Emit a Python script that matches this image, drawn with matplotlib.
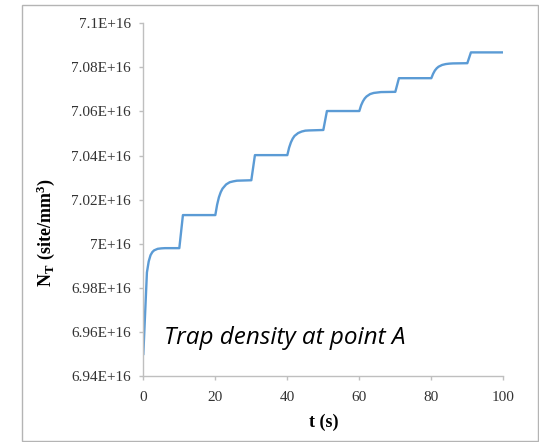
import numpy as np
import matplotlib
matplotlib.use("Agg")
import matplotlib.pyplot as plt
from matplotlib.patches import Rectangle

# time (s) and trap density N_T (in units of 1E+16 site/mm^3)
t = [0, 1, 1.5, 2, 2.5, 3, 4, 5, 6, 10, 11,
     20, 20.5, 21, 21.5, 22, 23, 24, 25, 26, 30, 31,
     40, 40.5, 41, 41.5, 42, 43, 44, 45, 46, 50, 51,
     60, 60.5, 61, 61.5, 62, 63, 64, 65, 66, 70, 71,
     80, 80.5, 81, 81.5, 82, 83, 84, 85, 86, 90, 91, 100]
nt = [6.9500, 6.9870, 6.9920, 6.9948, 6.9962, 6.9970, 6.9977, 6.9979, 6.9980, 6.9980, 7.0130,
      7.0130, 7.0177, 7.0211, 7.0234, 7.0250, 7.0269, 7.0279, 7.0283, 7.0286, 7.0288, 7.0402,
      7.0402, 7.0436, 7.0460, 7.0477, 7.0489, 7.0502, 7.0509, 7.0513, 7.0514, 7.0516, 7.0602,
      7.0602, 7.0628, 7.0646, 7.0659, 7.0668, 7.0679, 7.0684, 7.0686, 7.0688, 7.0689, 7.0751,
      7.0751, 7.0771, 7.0786, 7.0796, 7.0803, 7.0811, 7.0815, 7.0817, 7.0818, 7.0819, 7.0868, 7.0868]

x_ticks = [0, 20, 40, 60, 80, 100]
y_ticks = [6.94, 6.96, 6.98, 7.00, 7.02, 7.04, 7.06, 7.08, 7.10]
y_labels = ["6.94E+16", "6.96E+16", "6.98E+16", "7E+16", "7.02E+16",
            "7.04E+16", "7.06E+16", "7.08E+16", "7.1E+16"]

plt.rcParams["font.family"] = "Liberation Serif"
plt.rcParams["mathtext.fontset"] = "custom"
plt.rcParams["mathtext.rm"] = "Liberation Serif"
plt.rcParams["mathtext.bf"] = "Liberation Serif:bold"

fig = plt.figure(figsize=(5.39, 4.42), dpi=100)
ax = fig.add_axes([0.2659, 0.1493, 0.6679, 0.7980])

ax.plot(t, np.array(nt) * 1e16, color="#5b9bd5", lw=1.7)

ax.set_xlim(0, 100)
ax.set_ylim(6.94e16, 7.10e16)
ax.set_xticks(x_ticks)
ax.set_yticks(np.array(y_ticks) * 1e16)
ax.set_yticklabels(y_labels)

for s in ["top", "right"]:
    ax.spines[s].set_visible(False)
for s in ["left", "bottom"]:
    ax.spines[s].set_color("#bfbfbf")
    ax.spines[s].set_linewidth(1.0)
ax.tick_params(axis="both", colors="#bfbfbf", labelcolor="#333333",
               length=3, width=1.0, labelsize=11)
ax.tick_params(axis="y", pad=6)
ax.tick_params(axis="x", pad=8)

ax.set_xlabel("t (s)", fontsize=13, fontweight="bold", labelpad=7)
ax.set_ylabel(r"$\mathbf{N_T\ (site/mm^3)}$", fontsize=13)
ax.yaxis.set_label_coords(-0.24, 0.408)

ax.text(5.75, 6.9545e16, "Trap density at point A", family="Open Sans",
        style="italic", fontsize=17.5, ha="left", va="baseline")

fig.patches.append(Rectangle((0.0408, 0.002), 0.957, 0.987, transform=fig.transFigure,
                             fill=False, edgecolor="#b4b4b4", lw=1.0))

fig.savefig("out.png", dpi=100)
